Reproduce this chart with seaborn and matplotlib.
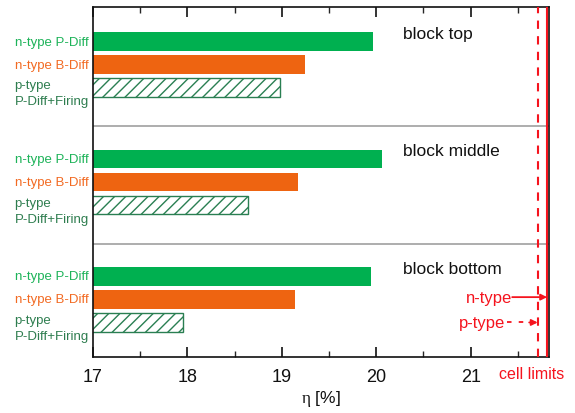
import matplotlib
matplotlib.use("Agg")
import matplotlib.pyplot as plt
import seaborn as sns
import pandas as pd

# Efficiency per wafer position and process
blocks = ["block top", "block middle", "block bottom"]
processes = ["n-type P-Diff", "n-type B-Diff", "p-type\nP-Diff+Firing"]
eta_p_diff = [19.97, 20.06, 19.94]
eta_b_diff = [19.25, 19.17, 19.14]
eta_p_type = [18.98, 18.64, 17.95]

# Cell limits
limit_n_type = 21.81
limit_p_type = 21.71

bar_colors = ["#00b050", "#ee6411", "#ffffff"]
label_colors = ["#1db359", "#f26a22", "#2e7d4f"]
hatch_color = "#2a7f52"
red = "#f5141e"

sns.set_theme(style="white")
plt.rcParams["font.family"] = ["Liberation Sans", "DejaVu Sans"]
plt.rcParams["mathtext.fontset"] = "custom"
plt.rcParams["mathtext.rm"] = "Liberation Serif"
plt.rcParams["mathtext.it"] = "Liberation Serif"
plt.rcParams["hatch.linewidth"] = 1.0

# Layout of rows: three bars per block, blocks stacked top to bottom
block_step = 5.1
rows = []
for b, blk in enumerate(blocks):
    for r, (proc, vals) in enumerate(zip(processes, [eta_p_diff, eta_b_diff, eta_p_type])):
        rows.append({"block": blk, "process": proc, "eta": vals[b],
                     "pos": b * block_step + 1.5 + r})
df = pd.DataFrame(rows)

fig = plt.figure(figsize=(5.75, 4.14), dpi=100)
ax = fig.add_axes([93 / 575, 1 - 358 / 414, 456 / 575, 350 / 414])

sns.barplot(data=df, x="eta", y="pos", hue="process", hue_order=processes,
            orient="h", native_scale=True, dodge=False, palette=bar_colors,
            saturation=1, legend=False, ax=ax, linewidth=0)

for cont, proc in zip(ax.containers, processes):
    if proc.startswith("p-type"):
        for bar in cont:
            bar.set_facecolor("white")
            bar.set_edgecolor(hatch_color)
            bar.set_hatch("///")
            bar.set_linewidth(1.0)

ax.set_xlim(17, 21.83)
ax.set_ylim(15.2, 0)

# Block separators
for k in (1, 2):
    ax.axhline(k * 5.15, color="#a0a0a0", lw=1.2, zorder=1)

# Cell limit lines
ax.axvline(limit_n_type, color=red, lw=1.5, zorder=5)
ax.axvline(limit_p_type, color=red, lw=1.5, ls=(0, (4, 3.5)), zorder=5)

# Row labels on the left and block names
for b, blk in enumerate(blocks):
    for r, proc in enumerate(processes):
        y = b * block_step + 1.5 + r
        if r == 2:
            y += 0.25
        ax.text(-0.009, y, proc, transform=ax.get_yaxis_transform(),
                ha="right", va="center", multialignment="left",
                fontsize=9.5, color=label_colors[r], linespacing=1.45)
    ax.text(20.28, b * block_step + 1.15, blk, ha="left", va="center",
            fontsize=12.5, color="#111111")

# Limit annotations
y_n = 12.6
y_p = 13.7
ax.text(21.44, y_n, "n-type", ha="right", va="center", fontsize=12, color=red)
ax.annotate("", xy=(limit_n_type, y_n), xytext=(21.44, y_n),
            arrowprops=dict(arrowstyle="-|>", color=red, lw=1.3,
                            shrinkA=0, shrinkB=0, mutation_scale=9))
ax.text(21.37, y_p, "p-type", ha="right", va="center", fontsize=12, color=red)
ax.plot([21.38, 21.63], [y_p, y_p], color=red, lw=1.3, ls=(0, (2.5, 4)))
ax.annotate("", xy=(limit_p_type, y_p), xytext=(21.62, y_p),
            arrowprops=dict(arrowstyle="-|>", color=red, lw=1.3,
                            shrinkA=0, shrinkB=0, mutation_scale=9))
fig.text(532 / 575, 1 - 375 / 414, "cell limits", ha="center", va="center",
         fontsize=11.5, color=red)

# Axes styling
ax.set_xticks([17, 18, 19, 20, 21])
ax.set_xticks([17.5, 18.5, 19.5, 20.5, 21.5], minor=True)
ax.set_yticks([])
ax.tick_params(axis="x", which="major", direction="in", length=7, width=1.2,
               top=True, bottom=True, labelsize=13, pad=8, colors="#111111")
ax.tick_params(axis="x", which="minor", direction="in", length=4, width=1.0,
               top=True, bottom=True)
for s in ax.spines.values():
    s.set_color("#111111")
    s.set_linewidth(1.2)
ax.set_xlabel(r"$\mathrm{\eta}$ [%]", fontsize=12.5, labelpad=2, color="#111111")
ax.set_ylabel("")

fig.savefig("out.png", dpi=100)
